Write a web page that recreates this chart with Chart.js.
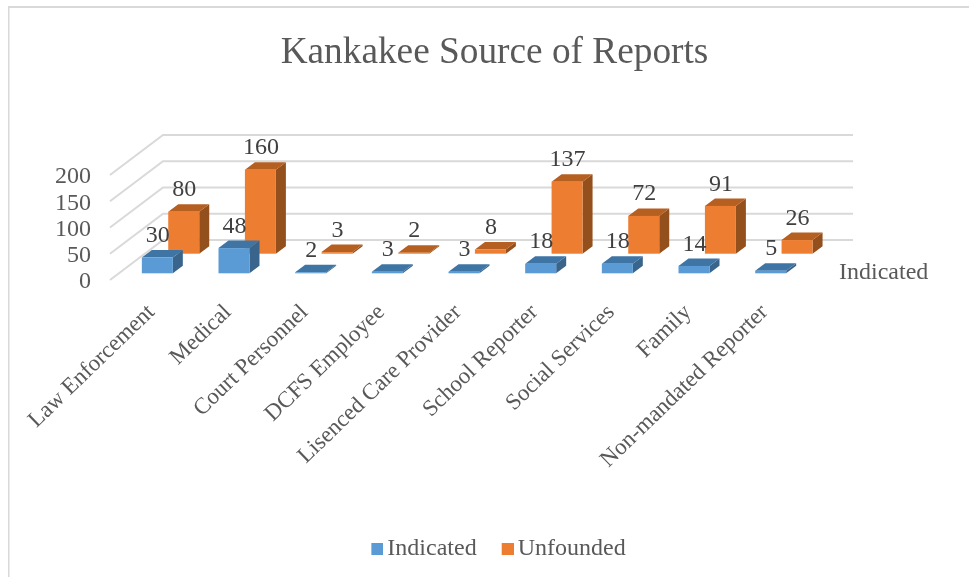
<!DOCTYPE html>
<html><head><meta charset="utf-8">
<style>html,body{margin:0;padding:0;background:#fff}canvas{display:block}</style>
<script src="https://cdn.jsdelivr.net/npm/chart.js@4/dist/chart.umd.min.js"></script>
</head><body><canvas id="c" width="969" height="577"></canvas>
<script>
const categories = ["Law Enforcement","Medical","Court Personnel","DCFS Employee","Lisenced Care Provider","School Reporter","Social Services","Family","Non-mandated Reporter"];
const indicated = [30,48,2,3,3,18,18,14,5];
const unfounded = [80,160,3,2,8,137,72,91,26];
const yTicks = [0,50,100,150,200];
const seriesAxisLabel = "Indicated";

const FONT = "'Liberation Serif','Times New Roman',serif";
const TEXT = "#595959", DATA = "#404040", GRID = "#d9d9d9";
const WALL = {dx:53, dy:-40};
const DEPTH = {dx:10, dy:-7.5};
const ROWS = [{dx:9, dy:-6.7, top:"#3f75a5", side:"#39658c"},{dx:35.4, dy:-26.3, top:"#b55f20", side:"#934f1c"}];

function swatch(color){
  const k=document.createElement('canvas');k.width=28;k.height=12;
  const g=k.getContext('2d');g.fillStyle=color;g.fillRect(16,0,12,12);return k;
}
function poly(ctx,pts,fill){ctx.beginPath();pts.forEach((p,i)=>i?ctx.lineTo(p[0],p[1]):ctx.moveTo(p[0],p[1]));ctx.closePath();ctx.fillStyle=fill;ctx.fill();}

const box3d = {
  id:'box3d',
  beforeDraw(chart){
    const c=chart.ctx;c.save();c.fillStyle=GRID;
    c.fillRect(8,6,961,2);c.fillRect(8,6,1.5,571);c.restore();
  },
  beforeDatasetsDraw(chart){
    const c=chart.ctx,a=chart.chartArea,y=chart.scales.y;
    c.save();c.strokeStyle=GRID;c.lineWidth=2;
    yTicks.forEach(v=>{const p=y.getPixelForValue(v);
      c.beginPath();c.moveTo(a.left,p);c.lineTo(a.left+WALL.dx,p+WALL.dy);c.lineTo(a.right+WALL.dx,p+WALL.dy);c.stroke();});
    c.restore();
  },
  beforeDatasetDraw(chart,args){
    const c=chart.ctx,r=ROWS[args.index],col=chart.data.datasets[args.index].backgroundColor;
    args.meta.data.forEach(b=>{
      const p=b.getProps(['x','y','base','width'],true);
      const l=p.x-p.width/2+r.dx,R=l+p.width,t=p.y+r.dy,u=p.base+r.dy;
      poly(c,[[R,t],[R+DEPTH.dx,t+DEPTH.dy],[R+DEPTH.dx,u+DEPTH.dy],[R,u]],r.side);
      poly(c,[[l,t],[l+DEPTH.dx,t+DEPTH.dy],[R+DEPTH.dx,t+DEPTH.dy],[R,t]],r.top);
      c.fillStyle=col;c.fillRect(l,t,p.width,u-t);
    });
    return false;
  },
  afterDatasetsDraw(chart){
    const c=chart.ctx;c.save();c.font="24px "+FONT;c.fillStyle=DATA;c.textAlign='center';c.textBaseline='middle';
    chart.data.datasets.forEach((d,i)=>{
      chart.getDatasetMeta(i).data.forEach((b,j)=>{
        const p=b.getProps(['x','y'],true);
        c.fillText(String(d.data[j]),p.x+ROWS[i].dx+0.5,p.y+ROWS[i].dy-21.7);
      });
    });
    c.fillStyle=TEXT;c.textAlign='left';
    c.fillText(seriesAxisLabel,839,273);
    c.restore();
  }
};

new Chart(document.getElementById('c'),{
  type:'bar',
  data:{labels:categories,datasets:[
    {label:"Indicated",data:indicated,backgroundColor:"#5b9bd5"},
    {label:"Unfounded",data:unfounded,backgroundColor:"#ed7d31"}
  ]},
  plugins:[box3d],
  options:{
    responsive:false,animation:false,
    layout:{padding:{left:20,right:0,top:0,bottom:6}},
    datasets:{bar:{grouped:false,categoryPercentage:1,barPercentage:31/76.7}},
    plugins:{
      tooltip:{enabled:false},
      title:{display:true,text:"Kankakee Source of Reports",color:TEXT,font:{family:FONT,size:37.3,weight:'normal',lineHeight:1.2},padding:{top:31,bottom:99.2}},
      legend:{position:'bottom',labels:{color:TEXT,font:{family:FONT,size:24},padding:17,boxWidth:12,boxHeight:12,usePointStyle:true,
        generateLabels(ch){return Chart.defaults.plugins.legend.labels.generateLabels(ch).map((it,i)=>{it.pointStyle=swatch(ch.data.datasets[i].backgroundColor);return it;});}}}
    },
    scales:{
      x:{grid:{display:false},border:{display:false},afterFit(s){s.height=240;},
        ticks:{autoSkip:false,minRotation:44,maxRotation:44,color:TEXT,font:{family:FONT,size:23},padding:11,labelOffset:3}},
      y:{min:0,max:200,grid:{display:false,tickLength:0,drawTicks:false},border:{display:false},afterFit(s){s.width=90;},
        afterBuildTicks(s){s.ticks=yTicks.map(v=>({value:v}));},
        ticks:{autoSkip:false,color:TEXT,font:{family:FONT,size:24},padding:19,labelOffset:2}},
      yRight:{position:'right',display:true,grid:{display:false},border:{display:false},ticks:{display:false},afterFit(s){s.width=169;}}
    }
  }
});
</script></body></html>
